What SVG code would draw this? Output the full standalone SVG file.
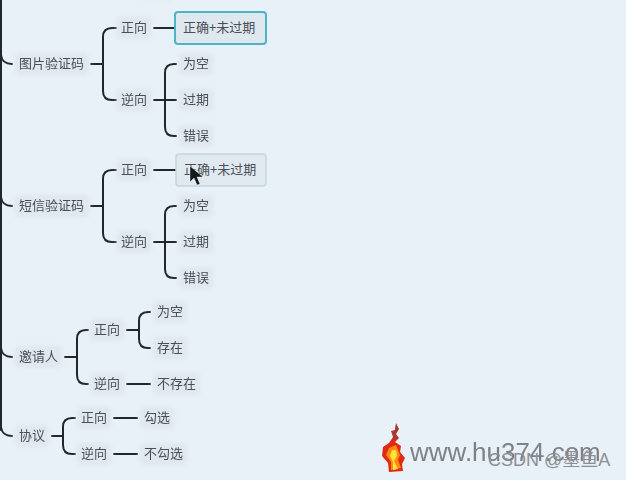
<svg xmlns="http://www.w3.org/2000/svg" width="626" height="480" viewBox="0 0 626 480">
<defs>
<style>
text{font-family:"Noto Sans CJK SC","Liberation Sans",sans-serif;font-size:13px;fill:#4a4f55;dominant-baseline:central}
.bg{fill:#e0e7ef;filter:url(#soft)}
.c{fill:none;stroke:#23272c;stroke-width:2;stroke-linecap:round;stroke-linejoin:round}
.n text{filter:url(#t)}
</style>
<filter id="soft" x="-20%" y="-30%" width="140%" height="160%"><feGaussianBlur stdDeviation="2"/></filter>
<filter id="t" x="-5%" y="-10%" width="110%" height="120%"><feGaussianBlur stdDeviation="0.25"/></filter>
<filter id="s" x="-10%" y="-10%" width="120%" height="120%"><feGaussianBlur stdDeviation="0.3"/></filter>
<filter id="w" x="-5%" y="-10%" width="110%" height="120%"><feGaussianBlur stdDeviation="0.3"/></filter>
</defs>
<rect width="626" height="480" fill="#e8f0f8"/>
<rect x="142" y="-8" width="32" height="10" class="bg" opacity=".5"/>
<g id="connectors" class="c">
<path d="M1 0V430"/>
<path d="M1 55Q2 64 12 64M1 197Q2 206 12 206M1 348Q2 357 12 357M1 427Q2 436 12 436"/>
<path d="M91 64H102M116 28H112Q103 28 103 37V91Q103 100 112 100H116"/>
<path d="M154 28H176"/>
<path d="M154 100H176M176 64H174Q165 64 165 73V127Q165 136 174 136H176"/>
<path d="M91 206H102M116 170H112Q103 170 103 179V233Q103 242 112 242H116"/>
<path d="M154 170H178"/>
<path d="M154 242H176M176 206H174Q165 206 165 215V269Q165 278 174 278H176"/>
<path d="M65 357H76M88 330H86Q77 330 77 339V375Q77 384 86 384H88"/>
<path d="M127 330H138M150 312H148Q139 312 139 321V339Q139 348 148 348H150"/>
<path d="M127 384H150"/>
<path d="M52 436H62M75 418H72Q63 418 63 427V445Q63 454 72 454H75"/>
<path d="M114 418H137M114 454H137"/>
</g>
<g id="n1" class="n"><rect class="bg" x="15" y="53" width="74" height="22" rx="4"/><text x="19" y="62.500">图片验证码</text></g>
<g id="n2" class="n"><rect class="bg" x="117" y="17" width="34" height="22" rx="4"/><text x="121" y="26.500">正向</text></g>
<g id="n3"><rect x="175" y="12" width="91" height="32" rx="3" fill="#dfe8ef" stroke="#4fb3c8" stroke-width="2"/><text x="183" y="26.500">正确+未过期</text></g>
<g id="n4" class="n"><rect class="bg" x="117" y="89" width="34" height="22" rx="4"/><text x="121" y="98.500">逆向</text></g>
<g id="n5" class="n"><rect class="bg" x="179" y="53" width="34" height="22" rx="4"/><text x="183" y="62.500">为空</text></g>
<g id="n6" class="n"><rect class="bg" x="179" y="89" width="34" height="22" rx="4"/><text x="183" y="98.500">过期</text></g>
<g id="n7" class="n"><rect class="bg" x="179" y="125" width="34" height="22" rx="4"/><text x="183" y="134.500">错误</text></g>
<g id="n8" class="n"><rect class="bg" x="15" y="195" width="74" height="22" rx="4"/><text x="19" y="204.500">短信验证码</text></g>
<g id="n9" class="n"><rect class="bg" x="117" y="159" width="34" height="22" rx="4"/><text x="121" y="168.500">正向</text></g>
<g id="n10"><rect x="176" y="154" width="90" height="32" rx="3" fill="#e0e9f0" stroke="#c3d6de" stroke-width="1.500"/><text x="184" y="168.500">正确+未过期</text></g>
<g id="n11" class="n"><rect class="bg" x="117" y="231" width="34" height="22" rx="4"/><text x="121" y="240.500">逆向</text></g>
<g id="n12" class="n"><rect class="bg" x="179" y="195" width="34" height="22" rx="4"/><text x="183" y="204.500">为空</text></g>
<g id="n13" class="n"><rect class="bg" x="179" y="231" width="34" height="22" rx="4"/><text x="183" y="240.500">过期</text></g>
<g id="n14" class="n"><rect class="bg" x="179" y="267" width="34" height="22" rx="4"/><text x="183" y="276.500">错误</text></g>
<g id="n15" class="n"><rect class="bg" x="15" y="346" width="47" height="22" rx="4"/><text x="19" y="355.500">邀请人</text></g>
<g id="n16" class="n"><rect class="bg" x="90" y="319" width="34" height="22" rx="4"/><text x="94" y="328.500">正向</text></g>
<g id="n17" class="n"><rect class="bg" x="153" y="301" width="34" height="22" rx="4"/><text x="157" y="310.500">为空</text></g>
<g id="n18" class="n"><rect class="bg" x="153" y="337" width="34" height="22" rx="4"/><text x="157" y="346.500">存在</text></g>
<g id="n19" class="n"><rect class="bg" x="90" y="373" width="34" height="22" rx="4"/><text x="94" y="382.500">逆向</text></g>
<g id="n20" class="n"><rect class="bg" x="153" y="373" width="47" height="22" rx="4"/><text x="157" y="382.500">不存在</text></g>
<g id="n21" class="n"><rect class="bg" x="15" y="425" width="34" height="22" rx="4"/><text x="19" y="434.500">协议</text></g>
<g id="n22" class="n"><rect class="bg" x="77" y="407" width="34" height="22" rx="4"/><text x="81" y="416.500">正向</text></g>
<g id="n23" class="n"><rect class="bg" x="140" y="407" width="34" height="22" rx="4"/><text x="144" y="416.500">勾选</text></g>
<g id="n24" class="n"><rect class="bg" x="77" y="443" width="34" height="22" rx="4"/><text x="81" y="452.500">逆向</text></g>
<g id="n25" class="n"><rect class="bg" x="140" y="443" width="47" height="22" rx="4"/><text x="144" y="452.500">不勾选</text></g>
<path d="M190 166V182L194 178L197 185L200 184L197 177L203 177Z" fill="#15181c" stroke="#fff" stroke-width=".4"/>
<g id="flame" filter="url(#s)">
<path d="M396 423L399 429L396 434L399 438L395 442L401 446L400 452L405 458L402 464L403 471L389 472L388 463L382 456L383 447L389 443L393 437L391 431L395 430Z" fill="#e02a12"/>
<path d="M389 448L396 445L400 455L398 460L401 468L391 470L391 462L386 455Z" fill="#ff8a10"/>
<path d="M392 450L396 450L397 456L394 461L398 469L393 470L393 462L390 456Z" fill="#ffe23a"/>
<path d="M396 424L398 430L395 435L397 438L393 441L394 436L392 432L395 431Z" fill="#8a4048"/>
</g>
<text x="410" y="452" filter="url(#w)" style="font-family:'Liberation Sans',sans-serif;font-size:26px;fill:#7f8285">www.hu374.com</text>
<text x="488" y="460" style="font-family:'Liberation Sans','Noto Sans CJK SC',sans-serif;font-size:18px;fill:#8d9094">CSDN @墨鱼A</text>
</svg>
